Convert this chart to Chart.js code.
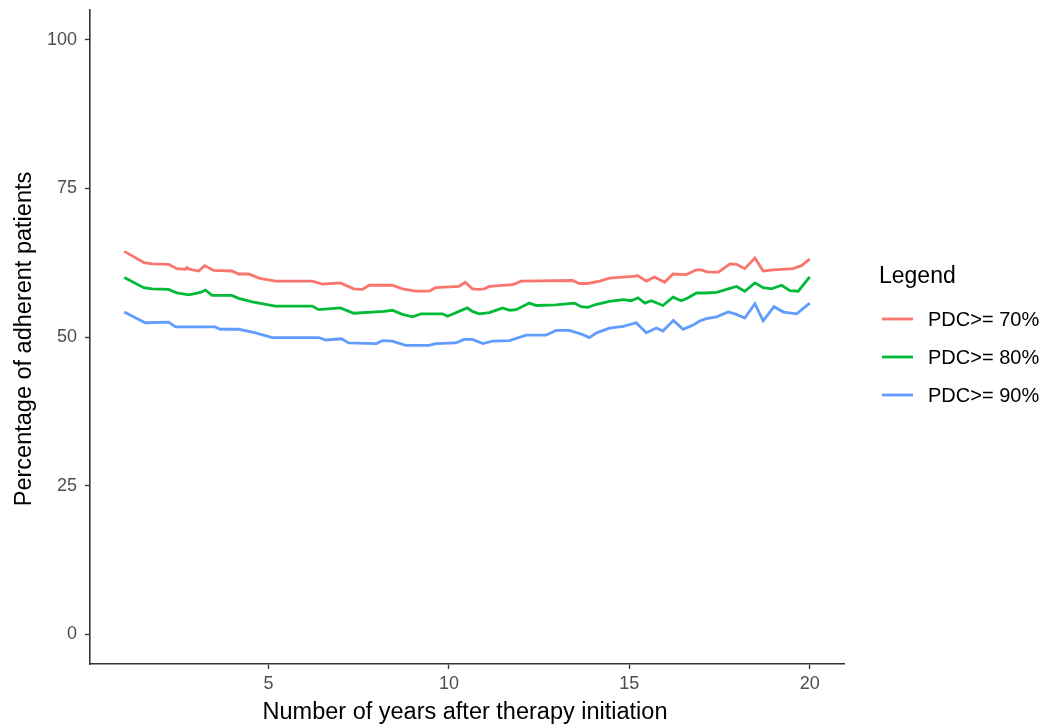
<!DOCTYPE html>
<html>
<head>
<meta charset="utf-8">
<title>Adherent patients over time</title>
<script src="https://cdn.jsdelivr.net/npm/chart.js@4"></script>
<style>
  html, body { margin: 0; padding: 0; background: #ffffff; }
  #wrap { width: 1043px; height: 726px; position: relative; }
</style>
</head>
<body>
<div id="wrap"><canvas id="chart" width="1043" height="726"></canvas></div>
<script>
// Years since therapy start and share (%) of patients meeting each PDC threshold
const years70 = [1.0, 1.55, 1.77, 2.23, 2.46, 2.7, 2.74, 2.8, 3.06, 3.23, 3.48, 3.98, 4.17, 4.45, 4.73, 5.19, 6.21, 6.49, 6.99, 7.36, 7.6, 7.79, 8.43, 8.71, 9.08, 9.45, 9.63, 10.28, 10.45, 10.65, 10.8, 10.98, 11.12, 11.77, 12.0, 13.43, 13.61, 13.85, 14.18, 14.45, 15.1, 15.24, 15.47, 15.7, 15.98, 16.21, 16.58, 16.86, 16.99, 17.13, 17.24, 17.47, 17.79, 17.97, 18.2, 18.48, 18.71, 18.99, 19.54, 19.77, 20.0];
const pdc70 = [64.4, 62.5, 62.3, 62.2, 61.5, 61.4, 61.7, 61.4, 61.1, 62.0, 61.2, 61.1, 60.6, 60.6, 59.9, 59.4, 59.4, 58.9, 59.1, 58.1, 58.0, 58.7, 58.7, 58.1, 57.7, 57.7, 58.3, 58.5, 59.2, 58.1, 58.0, 58.1, 58.5, 58.8, 59.4, 59.5, 59.0, 59.0, 59.4, 59.9, 60.2, 60.3, 59.4, 60.1, 59.2, 60.6, 60.5, 61.3, 61.3, 61.0, 60.9, 60.9, 62.3, 62.2, 61.5, 63.3, 61.1, 61.3, 61.5, 62.0, 63.1];

const years80 = [1.0, 1.54, 1.77, 2.23, 2.46, 2.79, 3.11, 3.25, 3.43, 3.98, 4.17, 4.55, 5.19, 6.21, 6.39, 6.99, 7.36, 8.2, 8.43, 8.71, 8.99, 9.22, 9.82, 9.96, 10.51, 10.65, 10.84, 11.12, 11.49, 11.68, 11.86, 12.23, 12.42, 12.97, 13.48, 13.66, 13.85, 14.09, 14.45, 14.83, 15.05, 15.24, 15.43, 15.61, 15.93, 16.21, 16.44, 16.63, 16.86, 17.13, 17.42, 17.74, 17.97, 18.2, 18.48, 18.71, 18.94, 19.22, 19.45, 19.68, 20.0];
const pdc80 = [60.0, 58.3, 58.1, 58.0, 57.4, 57.1, 57.5, 57.9, 57.0, 57.0, 56.5, 55.9, 55.2, 55.2, 54.6, 54.9, 54.0, 54.3, 54.5, 53.8, 53.4, 53.9, 53.9, 53.5, 54.9, 54.3, 53.9, 54.1, 54.9, 54.5, 54.6, 55.7, 55.3, 55.4, 55.7, 55.1, 55.0, 55.5, 56.0, 56.3, 56.1, 56.6, 55.7, 56.1, 55.3, 56.7, 56.1, 56.6, 57.4, 57.4, 57.5, 58.1, 58.5, 57.7, 59.1, 58.3, 58.1, 58.7, 57.8, 57.7, 60.1];

const years90 = [1.0, 1.58, 2.23, 2.42, 3.52, 3.66, 4.17, 4.64, 5.1, 6.4, 6.58, 7.02, 7.22, 7.99, 8.16, 8.43, 8.8, 9.45, 9.63, 10.19, 10.42, 10.65, 10.94, 11.21, 11.68, 12.14, 12.69, 12.97, 13.34, 13.71, 13.89, 14.09, 14.45, 14.83, 15.19, 15.47, 15.75, 15.93, 16.22, 16.49, 16.77, 16.95, 17.13, 17.42, 17.74, 17.97, 18.2, 18.48, 18.71, 19.01, 19.27, 19.64, 20.0];
const pdc90 = [54.2, 52.4, 52.5, 51.7, 51.7, 51.3, 51.3, 50.7, 49.9, 49.9, 49.5, 49.7, 49.0, 48.9, 49.4, 49.3, 48.6, 48.6, 48.9, 49.0, 49.6, 49.6, 48.9, 49.3, 49.4, 50.3, 50.3, 51.1, 51.1, 50.4, 49.9, 50.7, 51.5, 51.8, 52.4, 50.7, 51.5, 51.0, 52.8, 51.3, 52.0, 52.7, 53.1, 53.4, 54.2, 53.8, 53.2, 55.6, 52.7, 55.1, 54.2, 53.9, 55.7];

const seriesLabels = ['PDC>= 70%', 'PDC>= 80%', 'PDC>= 90%'];
const xTickValues = [5, 10, 15, 20];
const yTickValues = [0, 25, 50, 75, 100];

const colors = ['#F8766D', '#00BA38', '#619CFF'];
const FONT = '"Liberation Sans", Arial, sans-serif';

function toPoints(xs, ys) {
  return xs.map((x, i) => ({ x: x, y: ys[i] }));
}

const datasets = [
  toPoints(years70, pdc70),
  toPoints(years80, pdc80),
  toPoints(years90, pdc90)
].map((pts, i) => ({
  label: seriesLabels[i],
  data: pts,
  borderColor: colors[i],
  backgroundColor: colors[i],
  borderWidth: 2.8,
  pointRadius: 0,
  tension: 0,
  fill: false
}));

// Axis titles and the side legend, drawn in the ggplot style
const decorations = {
  id: 'decorations',
  afterDraw(chart) {
    const ctx = chart.ctx;
    const area = chart.chartArea;
    ctx.save();
    ctx.fillStyle = '#000000';
    ctx.textBaseline = 'middle';

    ctx.font = '23.5px ' + FONT;
    ctx.textAlign = 'center';
    ctx.fillText('Number of years after therapy initiation', 465, 713);

    ctx.save();
    ctx.translate(25, 339);
    ctx.rotate(-Math.PI / 2);
    ctx.fillText('Percentage of adherent patients', 0, 0);
    ctx.restore();

    ctx.textAlign = 'left';
    ctx.font = '23px ' + FONT;
    ctx.fillText('Legend', 879, 277);

    const rows = [319, 357, 395];
    ctx.font = '20px ' + FONT;
    rows.forEach((y, i) => {
      ctx.strokeStyle = colors[i];
      ctx.lineWidth = 2.8;
      ctx.beginPath();
      ctx.moveTo(882, y);
      ctx.lineTo(913, y);
      ctx.stroke();
      ctx.fillStyle = '#000000';
      ctx.fillText(seriesLabels[i], 928, y + 1);
    });
    ctx.restore();
  }
};

function noPad(scale) {
  scale.paddingTop = 0;
  scale.paddingBottom = 0;
  scale.paddingLeft = 0;
  scale.paddingRight = 0;
}

new Chart(document.getElementById('chart'), {
  type: 'line',
  data: { datasets: datasets },
  plugins: [decorations],
  options: {
    responsive: false,
    animation: false,
    layout: { padding: { top: 10, right: 199, left: 0, bottom: 0 } },
    plugins: {
      legend: { display: false },
      tooltip: { enabled: false }
    },
    scales: {
      x: {
        type: 'linear',
        min: 0.05,
        max: 20.95,
        afterFit(scale) { scale.height = 62; noPad(scale); },
        afterBuildTicks(scale) { scale.ticks = xTickValues.map(v => ({ value: v })); },
        grid: {
          display: true,
          drawOnChartArea: false,
          drawTicks: true,
          tickLength: 5,
          tickWidth: 1.3,
          tickColor: '#333333'
        },
        border: { display: true, color: '#333333', width: 1.6 },
        ticks: {
          padding: 4,
          color: '#4D4D4D',
          font: { family: FONT, size: 18 },
          maxRotation: 0,
          autoSkip: false
        }
      },
      y: {
        type: 'linear',
        min: -5,
        max: 105,
        afterFit(scale) { scale.width = 90; noPad(scale); },
        afterBuildTicks(scale) { scale.ticks = yTickValues.map(v => ({ value: v })); },
        grid: {
          display: true,
          drawOnChartArea: false,
          drawTicks: true,
          tickLength: 5,
          tickWidth: 1.3,
          tickColor: '#333333'
        },
        border: { display: true, color: '#333333', width: 1.6 },
        ticks: {
          padding: 8,
          color: '#4D4D4D',
          font: { family: FONT, size: 18 },
          autoSkip: false
        }
      }
    }
  }
});
</script>
</body>
</html>
